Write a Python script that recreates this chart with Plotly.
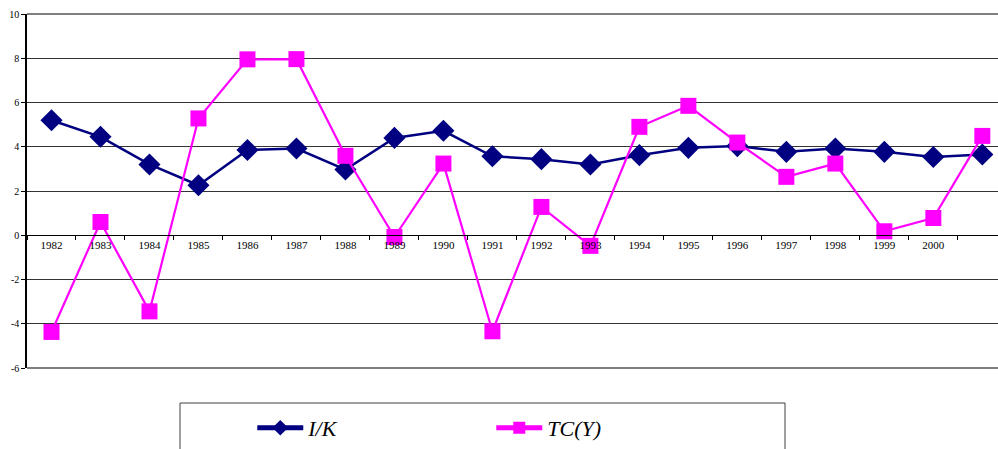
import plotly.graph_objects as go

# Categories (last year carries no label on the axis)
years = [str(y) for y in range(1982, 2002)]
year_labels = [str(y) for y in range(1982, 2001)] + [""]

# Series values
ik = [5.2, 4.45, 3.2, 2.26, 3.85, 3.92, 2.97, 4.4, 4.72, 3.57,
      3.44, 3.2, 3.62, 3.95, 4.03, 3.77, 3.92, 3.77, 3.54, 3.65]
tcy = [-4.37, 0.6, -3.44, 5.28, 7.95, 7.96, 3.59, -0.08, 3.24, -4.34,
       1.28, -0.48, 4.9, 5.85, 4.19, 2.64, 3.24, 0.18, 0.78, 4.49]

# Y axis ticks
y_ticks = [10, 8, 6, 4, 2, 0, -2, -4, -6]

serif = "Liberation Serif"

fig = go.Figure()
fig.add_trace(go.Scatter(
    x=years, y=ik, mode="lines+markers", name="I/K",
    line=dict(color="#000080", width=2.5),
    marker=dict(symbol="diamond", size=17, color="#000080"),
))
fig.add_trace(go.Scatter(
    x=years, y=tcy, mode="lines+markers", name="TC(Y)",
    line=dict(color="#FF00FF", width=2.2),
    marker=dict(symbol="square", size=16, color="#FF00FF"),
))

fig.update_layout(
    width=998, height=449,
    margin=dict(l=27, r=0, t=14, b=81),
    paper_bgcolor="white", plot_bgcolor="white",
    font=dict(family=serif, color="black"),
    showlegend=True,
    legend=dict(
        orientation="h", x=0.232, xanchor="left", y=-0.17, yanchor="middle",
        font=dict(family=serif, size=22, color="black", style="italic"),
        itemwidth=46, entrywidth=178, itemsizing="constant",
        bgcolor="rgba(0,0,0,0)", borderwidth=0,
    ),
    xaxis=dict(
        type="category", categoryorder="array", categoryarray=years,
        tickmode="array", tickvals=years, ticktext=year_labels,
        tickson="boundaries", ticks="outside", ticklen=4, tickcolor="black",
        showline=True, linecolor="black", linewidth=1,
        anchor="free", position=0.375,
        range=[-0.5, 19.32], showgrid=False, zeroline=False,
        tickfont=dict(family=serif, size=11, color="black"),
    ),
    yaxis=dict(
        range=[-6, 10], tickmode="array", tickvals=y_ticks,
        ticktext=[str(v) for v in y_ticks],
        ticks="outside", ticklen=4, tickcolor="black",
        showline=True, linecolor="black", linewidth=1.5,
        showgrid=True, gridcolor="#333333", gridwidth=1,
        zeroline=False,
        tickfont=dict(family=serif, size=10, color="black"),
    ),
    shapes=[
        # frame lines along the top and bottom of the plotting area
        dict(type="line", xref="paper", yref="paper", x0=0, x1=1, y0=1, y1=1,
             line=dict(color="#555555", width=1.5), layer="below"),
        dict(type="line", xref="paper", yref="paper", x0=0, x1=1, y0=0, y1=0,
             line=dict(color="#555555", width=1.5), layer="below"),
        # legend frame
        dict(type="rect", xref="paper", yref="paper",
             x0=(180 - 27) / 971, x1=(785 - 27) / 971,
             y0=-0.26, y1=(368 - 403) / 354,
             line=dict(color="#404040", width=1), fillcolor="rgba(0,0,0,0)"),
    ],
)

fig.write_html("out.html")
